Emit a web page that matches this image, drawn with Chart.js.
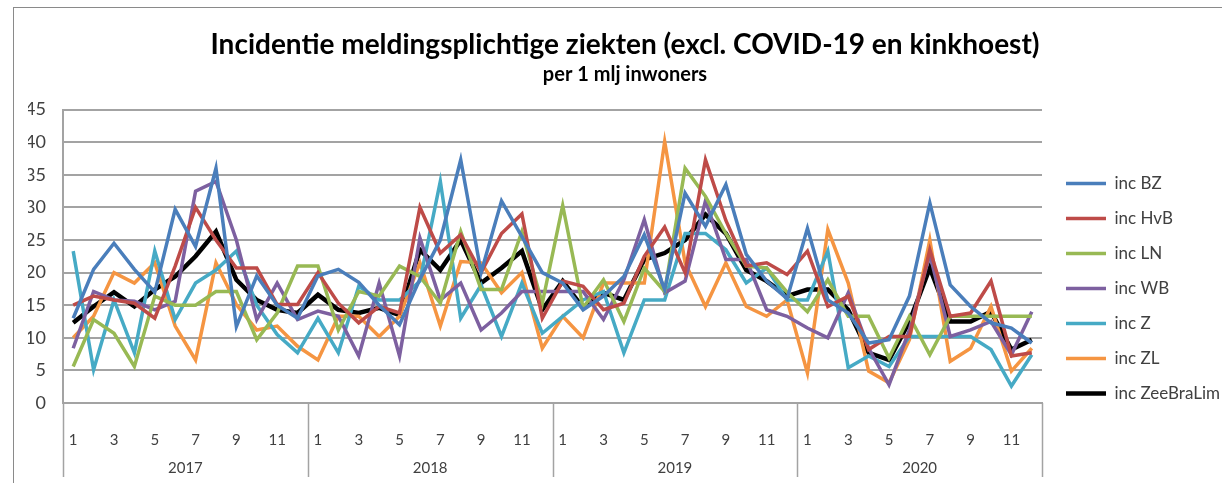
<!DOCTYPE html>
<html>
<head>
<meta charset="utf-8">
<script src="https://cdn.jsdelivr.net/npm/chart.js@4/dist/chart.umd.min.js"></script>
<style>
  html, body { margin: 0; padding: 0; background: #fff; }
  #frame {
    position: absolute; left: 13px; top: 7px;
    width: 1208px; height: 475px;
    border-left: 1px solid #8a8a8a; border-top: 1px solid #8a8a8a;
  }
</style>
</head>
<body>
<div id="frame"><canvas id="myChart"></canvas></div>
<script>
// months 1..12 for 2017-2020
const years = ["2017", "2018", "2019", "2020"];
const months = [];
years.forEach(() => { for (let m = 1; m <= 12; m++) months.push(String(m)); });
const yTicks = [0, 5, 10, 15, 20, 25, 30, 35, 40, 45];

const incBZ = [
  13, 20.5, 24.5, 20.5, 17, 29.7, 24, 36, 11.7, 19.5, 15, 13,
  19.5, 20.5, 18.5, 15, 12, 19, 25, 37.3, 20, 31, 25.5, 20,
  18.4, 14.3, 16.4, 19.4, 25.8, 17.4, 32.2, 27.1, 33.5, 22.8, 18.7, 16,
  26.8, 15.8, 13.8, 9.2, 9.7, 16.4, 30.7, 18.1, 14.8, 12.3, 11.5, 9.2
];
const incHvB = [
  15, 16.4, 15.8, 15.3, 13, 21, 30, 25, 20.7, 20.7, 15.1, 15.1,
  20, 15.3, 12.3, 14.8, 13.8, 30, 23, 25.8, 20, 26, 29, 13,
  18.7, 17.9, 14.3, 15.3, 22.5, 27, 20, 37.3, 28, 21, 21.5, 19.7,
  23.3, 14.8, 16.4, 8.2, 10.2, 10.2, 23.5, 13.3, 13.8, 18.7, 7.2, 7.7
];
const incLN = [
  5.6, 12.8, 10.7, 5.6, 16.4, 15, 15, 17.1, 17.1, 9.7, 13.8, 21,
  21, 11.2, 17.1, 16.4, 21, 19.4, 15.3, 26.3, 17.4, 17.4, 26.3, 15.3,
  30.3, 14.6, 18.9, 12.5, 20.7, 17.1, 36, 31.7, 26, 21, 20.7, 17,
  14, 18.9, 13.3, 13.3, 6.9, 13.3, 7.4, 13.3, 13.3, 13.3, 13.3, 13.3
];
const incWB = [
  8.4, 17.1, 15.8, 15.6, 14.3, 15.6, 32.5, 34, 25, 12.8, 18.4, 12.8,
  14.1, 13.3, 7.2, 18.4, 7.2, 25.3, 15.8, 18.4, 11.2, 13.8, 17.1, 17.1,
  17.1, 17.1, 12.8, 18.9, 28.1, 16.9, 18.7, 31, 22, 22, 14.3, 13.3,
  11.5, 10, 16.9, 8.4, 2.8, 11.2, 22.8, 10.2, 11.2, 12.5, 7.4, 14
];
const incZ = [
  23.3, 5.1, 15.8, 7.7, 23.3, 12.8, 18.4, 20.4, 23.3, 15, 10.5, 7.7,
  13, 7.7, 17.9, 15.8, 15.8, 18.7, 34, 13, 18.1, 10.2, 18.4, 10.7,
  13.3, 15.8, 17.1, 7.7, 15.8, 15.8, 26, 26, 23.5, 18.4, 20.7, 15.8,
  15.8, 23.3, 5.4, 7.2, 5.6, 10.2, 10.2, 10.2, 10.2, 8.2, 2.6, 7.4
];
const incZL = [
  10, 13.3, 20, 18.4, 21.5, 11.8, 6.6, 21.5, 15.1, 11.2, 11.8, 8.7,
  6.6, 13.3, 13.3, 10.2, 13.3, 21.5, 11.8, 21.7, 21.5, 16.9, 20, 8.4,
  13.3, 10, 18.4, 18.4, 18.4, 40.1, 21.5, 14.8, 21.5, 14.8, 13.3, 15.8,
  4.6, 26.6, 18.4, 4.9, 3.1, 9.7, 25, 6.4, 8.4, 14.8, 4.9, 8.4
];
const incZeeBraLim = [
  12.3, 14.8, 17, 14.8, 17.4, 19.4, 22.5, 26.3, 18.9, 15.8, 14.3, 13.8,
  16.6, 14.3, 13.8, 14.6, 13.5, 23.5, 20.4, 25, 18.4, 20.7, 23.3, 14.3,
  18.7, 14.6, 16.9, 15.8, 22, 23, 25, 28.9, 26, 20.4, 18.7, 16.4,
  17.4, 17.4, 14.3, 7.7, 6.6, 12.5, 20.7, 12.5, 12.5, 14, 8.2, 9.7
];

const GRID = "#a3a3a3";
const TXT = "#404040";

function line(label, data, color, width) {
  return {
    label: label, data: data, borderColor: color, backgroundColor: color,
    borderWidth: width, pointRadius: 0, tension: 0, fill: false
  };
}

// year separators under the month axis
const yearLines = {
  id: "yearLines",
  afterDraw(chart) {
    const x = chart.scales.x;
    const ctx = chart.ctx;
    const step = x.width / months.length;
    ctx.save();
    ctx.strokeStyle = GRID;
    ctx.lineWidth = 1.5;
    for (let i = 0; i <= years.length; i++) {
      const px = Math.round(x.left + i * 12 * step) + 0.5;
      ctx.beginPath();
      ctx.moveTo(px, x.top);
      ctx.lineTo(px, x.top + 74);
      ctx.stroke();
    }
    ctx.restore();
  }
};

const ctx = document.getElementById("myChart").getContext("2d");
const myChart = new Chart(ctx, {
  type: "line",
  data: {
    labels: months,
    datasets: [
      line("inc BZ", incBZ, "#4a7ebb", 3.5),
      line("inc HvB", incHvB, "#be4b48", 3.5),
      line("inc LN", incLN, "#98b954", 3.5),
      line("inc WB", incWB, "#7d60a0", 3.5),
      line("inc Z", incZ, "#46aac5", 3.5),
      line("inc ZL", incZL, "#f59542", 3.5),
      line("inc ZeeBraLim", incZeeBraLim, "#000000", 4.5),
    ],
  },
  plugins: [yearLines],
  options: {
    responsive: true,
    maintainAspectRatio: false,
    animation: false,
    layout: { padding: { left: 14, right: 0, top: 0, bottom: 0 } },
    plugins: {
      tooltip: { enabled: false },
      title: {
        display: true,
        text: "Incidentie meldingsplichtige ziekten (excl. COVID-19 en kinkhoest)",
        color: "#000",
        font: { family: "Lato", size: 28, weight: "bold" },
        padding: { top: 20, bottom: 1 },
      },
      subtitle: {
        display: true,
        text: "per 1 mlj inwoners",
        color: "#000",
        font: { family: "Lato", size: 20, weight: "bold" },
        padding: { top: 0, bottom: 23 },
      },
      legend: {
        position: "right",
        maxWidth: 174,
        title: { display: true, text: " ", font: { size: 10 }, padding: { top: 74, bottom: 0 } },
        labels: {
          usePointStyle: true,
          pointStyle: "line",
          pointStyleWidth: 40,
          padding: 18,
          color: TXT,
          font: { family: "Lato", size: 17 },
        },
      },
    },
    scales: {
      x: {
        offset: true,
        grid: { display: false },
        border: { display: true, color: GRID, width: 2 },
        ticks: {
          autoSkip: false,
          maxRotation: 0,
          padding: 20,
          color: TXT,
          font: { family: "'Liberation Sans Narrow', Lato", size: 15 },
          callback: function (v, i) { return i % 2 === 0 ? months[i] : ""; },
        },
        afterFit: (s) => { s.height = 44; },
      },
      year: {
        type: "category",
        labels: years,
        position: "bottom",
        offset: true,
        grid: { display: false },
        border: { display: false },
        ticks: {
          padding: 4,
          color: TXT,
          font: { family: "'Liberation Sans Narrow', Lato", size: 15 },
        },
        afterFit: (s) => { s.height = 36; },
      },
      y: {
        min: 0,
        max: 45,
        afterBuildTicks: (s) => { s.ticks = yTicks.map((v) => ({ value: v })); },
        grid: { color: GRID, lineWidth: 2, drawTicks: false },
        border: { display: true, color: GRID, width: 2 },
        ticks: {
          padding: 17,
          color: TXT,
          font: { family: "Lato", size: 18 },
        },
        afterFit: (s) => { s.width = 35; },
      },
      // empty spacer between plot and legend
      gap: {
        type: "linear",
        position: "right",
        grid: { display: false },
        border: { display: false },
        ticks: { display: false },
        afterFit: (s) => { s.width = 6; },
      },
    },
  },
});
</script>
</body>
</html>
